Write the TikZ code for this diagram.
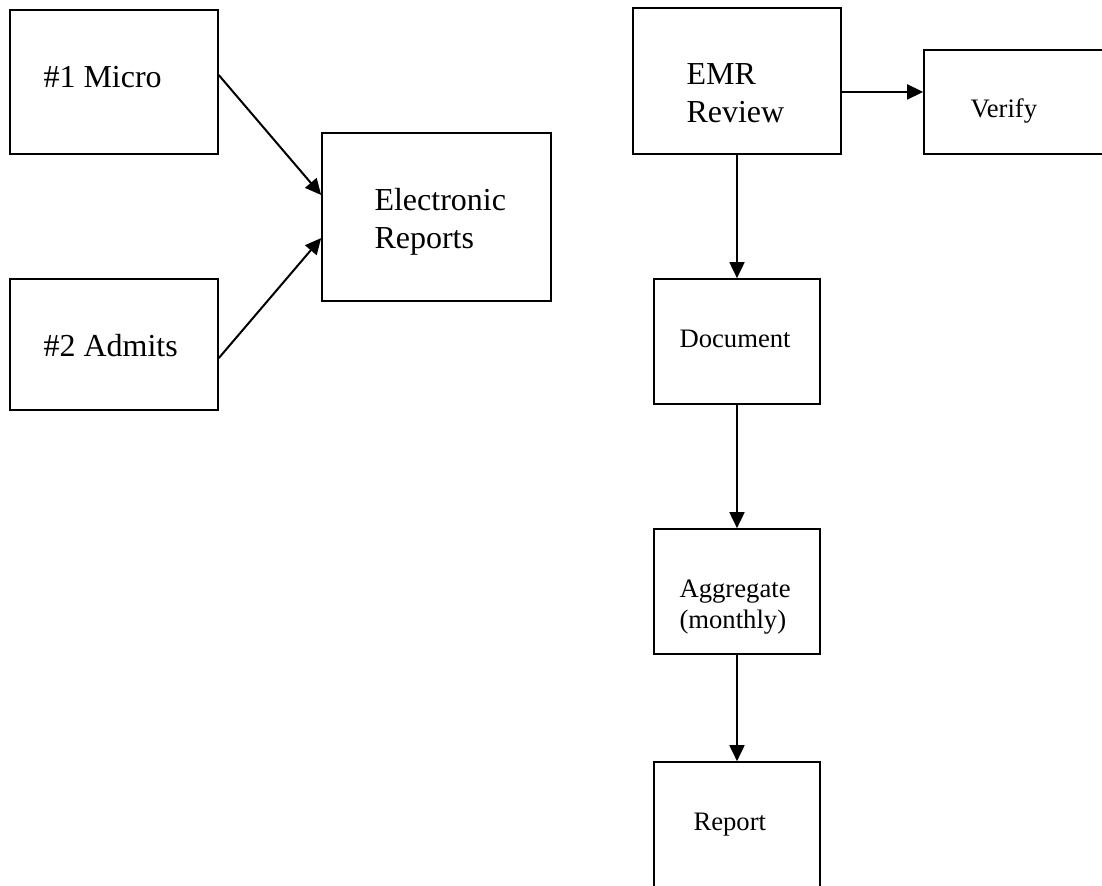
\documentclass[tikz,border=0pt]{standalone}
\usepackage{fontspec}
\setmainfont{Liberation Serif}
\usetikzlibrary{arrows.meta}

\tikzset{
  box/.style={draw, line width=0.6pt, inner sep=0pt},
  lbl/.style={anchor=base west, inner sep=0pt, align=left},
  big/.style={font=\fontsize{12}{14.25}\selectfont},
  small/.style={font=\fontsize{10}{11.6}\selectfont},
  flow/.style={line width=0.75pt, -{Triangle[length=6pt,width=5.6pt]}}
}

\begin{document}
\begin{tikzpicture}[x=0.375pt,y=-0.375pt]
\useasboundingbox (0,0) rectangle (1102,886);
\clip (0,0) rectangle (1102,886);

% Sources
\node[box, minimum width=78pt, minimum height=54pt] (micro) at (114,82) {};
\node[box, minimum width=78pt, minimum height=49.1pt] (admits) at (114,344.5) {};
\node[box, minimum width=85.9pt, minimum height=63pt] (elec) at (436.5,217) {};

\node[lbl, big] (microtxt) at (43,87) {\#1 Micro};
\node[lbl, big] (admitstxt) at (43,356) {\#2 Admits};
\node[lbl, big] (electxt) at (374,248) {Electronic\\Reports};

\draw[flow] ([yshift=2.6pt]micro.east) -- ([yshift=8.25pt]elec.west);
\draw[flow] ([yshift=-5.1pt]admits.east) -- ([yshift=-7.9pt]elec.west);

% Review chain
\node[box, minimum width=78pt, minimum height=54.75pt] (emr) at (737,81) {};
\node[box, minimum width=77.25pt, minimum height=39pt] (verify) at (1027,102) {};
\node[box, minimum width=62.25pt, minimum height=46.9pt] (doc) at (737,341.5) {};
\node[box, minimum width=62.25pt, minimum height=46.9pt] (agg) at (737,591.5) {};
\node[box, minimum width=62.25pt, minimum height=48.75pt] (rep) at (737,827) {};

\node[lbl, big] (emrtxt) at (686,122) {EMR\\Review};
\node[lbl, small] (verifytxt) at (970,117) {Verify};
\node[lbl, small] (doctxt) at (679,347) {Document};
\node[lbl, small] (aggtxt) at (679,628) {Aggregate\\(monthly)};
\node[lbl, small] (reptxt) at (693,830) {Report};

\draw[flow] ([yshift=-4.1pt]emr.east) -- ([yshift=-4.1pt]emr.east -| verify.west);
\draw[flow] (emr.south) -- (doc.north);
\draw[flow] (doc.south) -- (agg.north);
\draw[flow] (agg.south) -- (rep.north);

\end{tikzpicture}
\end{document}
